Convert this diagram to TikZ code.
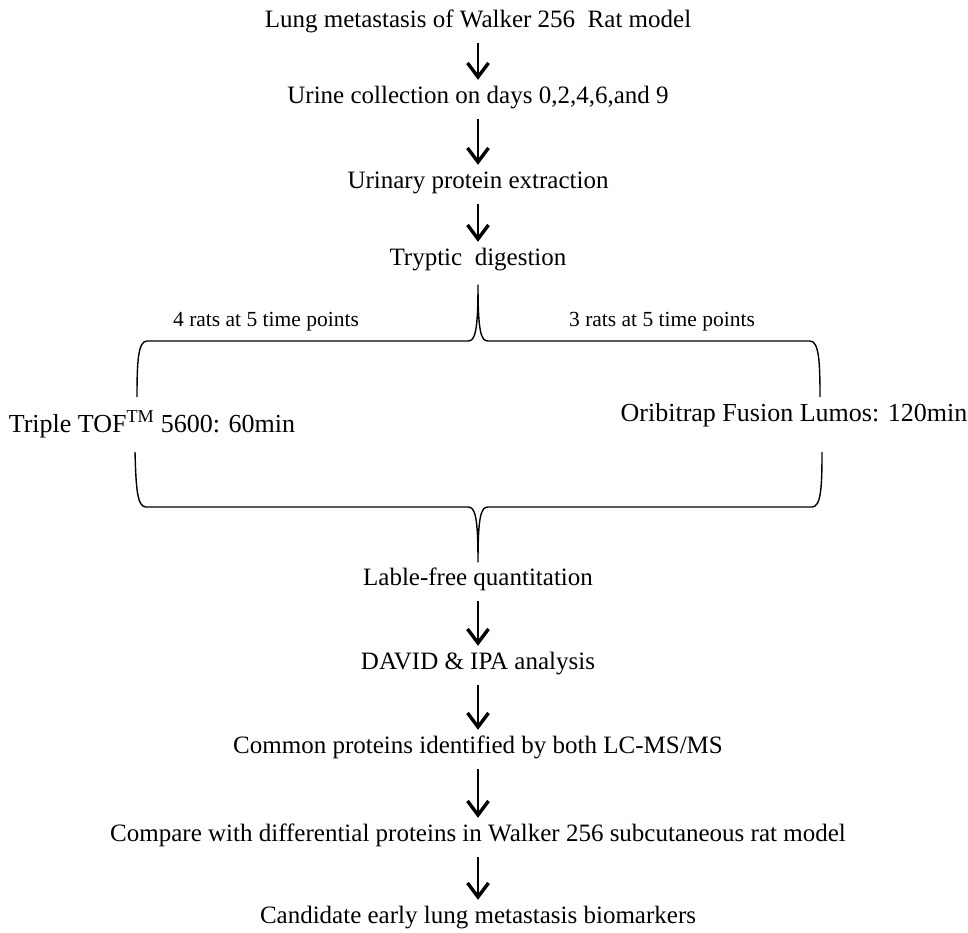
\documentclass[tikz,border=0pt]{standalone}
\usepackage{fontspec}
\setmainfont{Liberation Serif}
\usetikzlibrary{arrows.meta}
\begin{document}
\begin{tikzpicture}[x=1pt,y=-1pt,
  txt/.style={anchor=base, inner sep=0pt, font=\fontsize{25}{30}\selectfont, text height=18pt, text depth=6pt},
  big/.style={txt, font=\fontsize{26}{30}\selectfont},
  lbl/.style={anchor=base, inner sep=0pt, font=\fontsize{21.5}{26}\selectfont},
  flow/.style={line width=1.4pt, -{Straight Barb[length=14pt,width=21pt,line width=3.4pt]}},
  bracestyle/.style={line width=1.4pt, line join=round}]
\useasboundingbox (0,0) rectangle (968,932);

\node[txt] (n1) at (478,27) {Lung metastasis of Walker 256\ \ Rat model};
\node[txt] (n2) at (478,103) {Urine collection on days 0,2,4,6,and 9};
\node[txt] (n3) at (478,188) {Urinary protein extraction};
\node[txt] (n4) at (478,265) {Tryptic\ \ digestion};
\node[lbl] (l1) at (266,326) {4 rats at 5 time points};
\node[lbl] (l2) at (662,326) {3 rats at 5 time points};
\node[big] (t1) at (152,432) {Triple TOF\textsuperscript{TM} 5600: 60min};
\node[big] (t2) at (794,421) {Oribitrap Fusion Lumos: 120min};
\node[txt] (n5) at (478,585) {Lable-free quantitation};
\node[txt] (n6) at (478,669) {DAVID \& IPA analysis};
\node[txt] (n7) at (478,753) {Common proteins identified by both LC-MS/MS};
\node[txt] (n8) at (478,841) {Compare with differential proteins in Walker 256 subcutaneous rat model};
\node[txt] (n9) at (478,923) {Candidate early lung metastasis biomarkers};

\foreach \a/\b in {n1/n2,n2/n3,n3/n4,n5/n6,n6/n7,n7/n8,n8/n9}
  \draw[flow] ([yshift=-10pt]\a.south) -- ([yshift=5pt]\b.north);

% top brace
\coordinate (tt) at (478,285);
\coordinate (tl) at (137,397);
\coordinate (tr) at (820,397);
\draw[bracestyle] (tl) .. controls (137,362) and (138,341) .. (147,341)
  -- (468,341) .. controls (475,341) and (478,332) .. (tt)
  .. controls (478,332) and (481,341) .. (488,341)
  -- (810,341) .. controls (819,341) and (820,362) .. (tr);

% bottom brace
\coordinate (bt) at (478,562);
\coordinate (bl) at (135,452);
\coordinate (br) at (822,452);
\draw[bracestyle] (bl) .. controls (136,487) and (137,507) .. (146,507)
  -- (468,507) .. controls (475,507) and (478,516) .. (bt)
  .. controls (478,516) and (481,507) .. (488,507)
  -- (812,507) .. controls (821,507) and (822,487) .. (br);
\end{tikzpicture}
\end{document}
